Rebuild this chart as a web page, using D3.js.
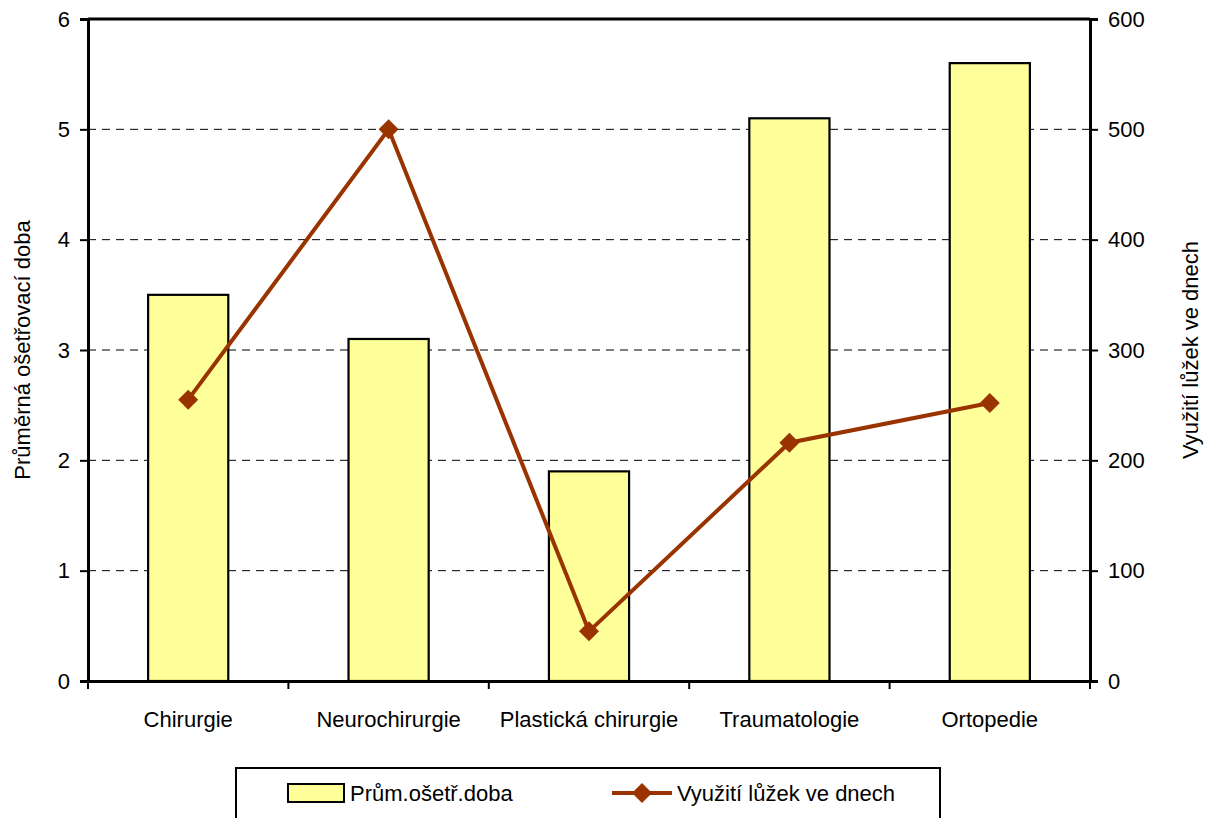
<!DOCTYPE html>
<html>
<head>
<meta charset="utf-8">
<script src="https://cdn.jsdelivr.net/npm/d3@7"></script>
<style>
  body { margin: 0; background: #fff; }
  svg text { font-family: "Liberation Sans", Arial, sans-serif; fill: #000; }
</style>
</head>
<body>
<svg id="chart" width="1211" height="818"></svg>
<script>
const categories = ['Chirurgie', 'Neurochirurgie', 'Plastická chirurgie', 'Traumatologie', 'Ortopedie'];
const avgStay = [3.5, 3.1, 1.9, 5.1, 5.6];          // Prům.ošetř.doba (left axis)
const bedUse = [255, 500, 45, 216, 252];            // Využití lůžek ve dnech (right axis)
const leftTicks = [0, 1, 2, 3, 4, 5, 6];
const rightTicks = [0, 100, 200, 300, 400, 500, 600];

const width = 1211;
const height = 818;
const margin = { top: 19, right: 121, bottom: 137, left: 88 };
const chartWidth = width - margin.left - margin.right;
const chartHeight = height - margin.top - margin.bottom;
const fontSize = 22;
const lineColor = '#993300';

const svg = d3.select('#chart');
const g = svg.append('g').attr('transform', `translate(${margin.left},${margin.top})`);

const x = d3.scaleBand().domain(categories).range([0, chartWidth]).paddingInner(0).paddingOuter(0);
const yLeft = d3.scaleLinear().domain([0, 6]).range([chartHeight, 0]);
const yRight = d3.scaleLinear().domain([0, 600]).range([chartHeight, 0]);
const barWidth = x.bandwidth() * 0.4;

// dashed gridlines
g.selectAll('.grid')
    .data(leftTicks.filter(d => d > 0 && d < 6))
    .enter()
    .append('line')
    .attr('x1', 0)
    .attr('x2', chartWidth)
    .attr('y1', d => yLeft(d))
    .attr('y2', d => yLeft(d))
    .attr('stroke', '#000')
    .attr('stroke-width', 1)
    .attr('stroke-dasharray', '8,6');

// bars
g.selectAll('.bar')
    .data(avgStay)
    .enter()
    .append('rect')
    .attr('x', (d, i) => x(categories[i]) + (x.bandwidth() - barWidth) / 2)
    .attr('y', d => yLeft(d))
    .attr('width', barWidth)
    .attr('height', d => chartHeight - yLeft(d))
    .attr('fill', '#FFFF99')
    .attr('stroke', '#000')
    .attr('stroke-width', 2.2);

// top frame line
g.append('line')
    .attr('x1', 0).attr('x2', chartWidth)
    .attr('y1', 0).attr('y2', 0)
    .attr('stroke', '#000').attr('stroke-width', 3);

// left axis
const leftAxis = g.append('g')
    .call(d3.axisLeft(yLeft).tickValues(leftTicks).tickSize(8).tickPadding(10).tickFormat(d3.format('d')));
// right axis
const rightAxis = g.append('g')
    .attr('transform', `translate(${chartWidth},0)`)
    .call(d3.axisRight(yRight).tickValues(rightTicks).tickSize(8).tickPadding(10).tickFormat(d3.format('d')));
// bottom axis, ticks drawn separately at band boundaries
const bottomAxis = g.append('g')
    .attr('transform', `translate(0,${chartHeight})`)
    .call(d3.axisBottom(x).tickSize(0).tickPadding(30));

[leftAxis, rightAxis, bottomAxis].forEach(a => {
    a.select('.domain').attr('stroke', '#000').attr('stroke-width', 3);
    a.selectAll('.tick line').attr('stroke', '#000').attr('stroke-width', 2);
    a.selectAll('text').style('font-size', fontSize + 'px').attr('font-family', null);
});

g.selectAll('.xtick')
    .data(d3.range(categories.length + 1))
    .enter()
    .append('line')
    .attr('x1', i => i * x.step())
    .attr('x2', i => i * x.step())
    .attr('y1', chartHeight)
    .attr('y2', chartHeight + 8)
    .attr('stroke', '#000')
    .attr('stroke-width', 2);

// line series
const line = d3.line()
    .x((d, i) => x(categories[i]) + x.bandwidth() / 2)
    .y(d => yRight(d));

g.append('path')
    .datum(bedUse)
    .attr('fill', 'none')
    .attr('stroke', lineColor)
    .attr('stroke-width', 4)
    .attr('d', line);

const diamond = d3.symbol().type(d3.symbolSquare).size(200);
g.selectAll('.marker')
    .data(bedUse)
    .enter()
    .append('path')
    .attr('d', diamond)
    .attr('transform', (d, i) => `translate(${x(categories[i]) + x.bandwidth() / 2},${yRight(d)}) rotate(45)`)
    .attr('fill', lineColor);

// axis titles
svg.append('text')
    .attr('transform', `translate(30,${margin.top + chartHeight / 2}) rotate(-90)`)
    .attr('text-anchor', 'middle')
    .style('font-size', fontSize + 'px')
    .text('Průměrná ošetřovací doba');

svg.append('text')
    .attr('transform', `translate(1198,${margin.top + chartHeight / 2}) rotate(-90)`)
    .attr('text-anchor', 'middle')
    .style('font-size', fontSize + 'px')
    .text('Využití lůžek ve dnech');

// legend
const legend = svg.append('g').attr('transform', 'translate(236,768)');
legend.append('rect')
    .attr('width', 704).attr('height', 70)
    .attr('fill', '#fff').attr('stroke', '#000').attr('stroke-width', 2);
legend.append('rect')
    .attr('x', 52).attr('y', 16).attr('width', 56).attr('height', 18)
    .attr('fill', '#FFFF99').attr('stroke', '#000').attr('stroke-width', 2);
legend.append('text')
    .attr('x', 114).attr('y', 33)
    .style('font-size', fontSize + 'px')
    .text('Prům.ošetř.doba');
legend.append('line')
    .attr('x1', 376).attr('x2', 436).attr('y1', 25).attr('y2', 25)
    .attr('stroke', lineColor).attr('stroke-width', 4);
legend.append('path')
    .attr('d', diamond)
    .attr('transform', 'translate(406,25) rotate(45)')
    .attr('fill', lineColor);
legend.append('text')
    .attr('x', 441).attr('y', 33)
    .style('font-size', fontSize + 'px')
    .text('Využití lůžek ve dnech');
</script>
</body>
</html>
